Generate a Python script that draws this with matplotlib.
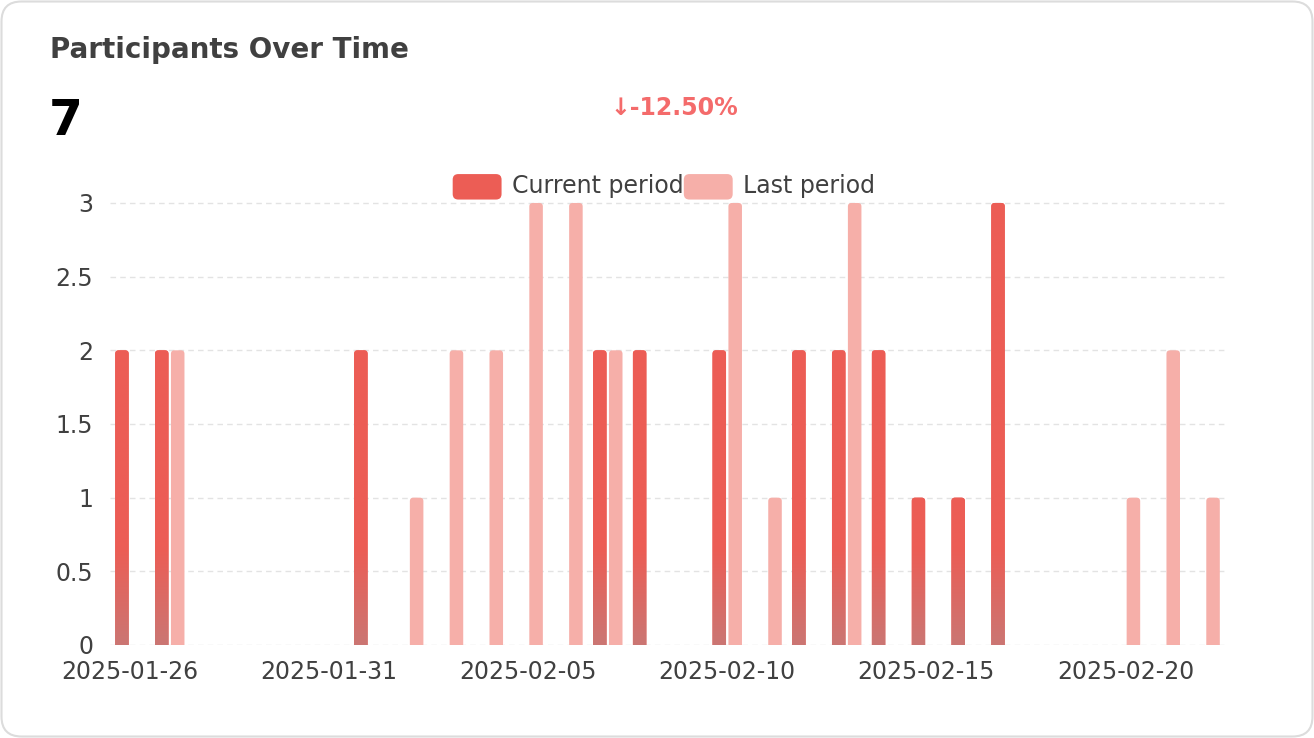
import numpy as np
import pandas as pd
import matplotlib
matplotlib.use('Agg')
import matplotlib.pyplot as plt
import matplotlib.dates as mdates
from matplotlib.patches import FancyBboxPatch
from matplotlib.legend_handler import HandlerPatch
from matplotlib.colors import LinearSegmentedColormap

# data
current_dates = ['2025-01-26', '2025-01-27', '2025-02-01', '2025-02-07', '2025-02-08',
                 '2025-02-10', '2025-02-12', '2025-02-13', '2025-02-14', '2025-02-15',
                 '2025-02-16', '2025-02-17']
current_vals = [2, 2, 2, 2, 2, 2, 2, 2, 2, 1, 1, 3]
last_dates = ['2025-01-27', '2025-02-02', '2025-02-03', '2025-02-04', '2025-02-05',
              '2025-02-06', '2025-02-07', '2025-02-10', '2025-02-11', '2025-02-13',
              '2025-02-20', '2025-02-21', '2025-02-22']
last_vals = [2, 1, 2, 2, 3, 3, 2, 3, 1, 3, 1, 2, 1]
xtick_dates = ['2025-01-26', '2025-01-31', '2025-02-05', '2025-02-10', '2025-02-15', '2025-02-20']
yticks = [0, 0.5, 1, 1.5, 2, 2.5, 3]
ytick_labels = ['0', '0.5', '1', '1.5', '2', '2.5', '3']

title = 'Participants Over Time'
total = '7'
change = '↓-12.50%'

col_cur = '#EC5D55'
col_cur_bottom = '#CB7673'
col_last = '#F6AFA9'
text_col = '#404040'

W, H = 1314, 738
fig = plt.figure(figsize=(W / 100, H / 100), dpi=100)

# card border
card = FancyBboxPatch((1.5 / W, 1.5 / H), (W - 3) / W, (H - 3) / H,
                      boxstyle='round,pad=0,rounding_size=%f' % (20 / W),
                      mutation_aspect=W / H, transform=fig.transFigure,
                      facecolor='white', edgecolor='#DCDCDC', linewidth=1.5,
                      zorder=-5)
fig.patches.append(card)

ytop = 3.05
ax = fig.add_axes([110 / W, 93 / H, 1115 / W, 449.4 / H])
ax.set_facecolor('none')

xc = mdates.date2num(pd.to_datetime(current_dates))
xl = mdates.date2num(pd.to_datetime(last_dates))
bw = 0.34
off = 0.2

bars_c = ax.bar(xc - off, current_vals, width=bw, color=col_cur, alpha=0)
bars_l = ax.bar(xl + off, last_vals, width=bw, color=col_last, alpha=0)

# px per unit -> aspect for rounded corners
px_x = 1115 / 28.0
px_y = 449.4 / ytop
asp = px_x / px_y
rs = 3.5 / px_x

cmap = LinearSegmentedColormap.from_list('g', [col_cur_bottom, col_cur])
grad_y = np.linspace(0, ytop, 200)
grad = np.clip(grad_y / 0.65, 0, 1).reshape(-1, 1)


def rounded(rect, fc):
    x0, w, h = rect.get_x(), rect.get_width(), rect.get_height()
    p = FancyBboxPatch((x0, -0.05), w, h + 0.05,
                       boxstyle='round,pad=0,rounding_size=%f' % rs,
                       mutation_aspect=1 / asp, facecolor=fc, edgecolor='none',
                       zorder=2)
    p.set_mutation_aspect(asp)
    ax.add_patch(p)
    return p


for r in bars_c:
    p = rounded(r, col_cur)
    im = ax.imshow(grad, extent=(r.get_x(), r.get_x() + r.get_width(), 0, ytop),
                   origin='lower', cmap=cmap, aspect='auto', zorder=3,
                   interpolation='bilinear')
    im.set_clip_path(p)
for r in bars_l:
    rounded(r, col_last)

ax.set_xlim(mdates.date2num(pd.Timestamp('2025-01-26')) - 0.5,
            mdates.date2num(pd.Timestamp('2025-02-22')) + 0.5)
ax.set_ylim(0, ytop)
ax.set_yticks(yticks)
ax.set_yticklabels(ytick_labels)
ax.set_xticks(mdates.date2num(pd.to_datetime(xtick_dates)))
ax.set_xticklabels(xtick_dates)
ax.tick_params(axis='both', length=0, labelsize=17, labelcolor=text_col)
ax.tick_params(axis='y', pad=12)
ax.tick_params(axis='x', pad=11)
for s in ax.spines.values():
    s.set_visible(False)
ax.yaxis.grid(True, color='#E3E3E3', linestyle=(0, (4, 3)), linewidth=1)
ax.set_axisbelow(True)


def legend_patch(legend, orig_handle, xdescent, ydescent, width, height, fontsize):
    return FancyBboxPatch((-xdescent, -ydescent - 0.25 * height), width, height * 1.3,
                          boxstyle='round,pad=0,rounding_size=4')


h1 = plt.Rectangle((0, 0), 1, 1, facecolor=col_cur)
h2 = plt.Rectangle((0, 0), 1, 1, facecolor=col_last)
fig.legend([h1, h2], ['Current period', 'Last period'], loc='center',
           bbox_to_anchor=(664 / W, 1 - 186 / H), ncol=2, frameon=False,
           fontsize=17, labelcolor=text_col, handlelength=2.07, handleheight=0.9,
           handletextpad=0.45, columnspacing=0.0,
           handler_map={plt.Rectangle: HandlerPatch(patch_func=legend_patch)})

fig.text(50 / W, 1 - 50 / H, title, fontsize=20, fontweight='bold',
         color=text_col, va='center', ha='left')
fig.text(49 / W, 1 - 121 / H, total, fontsize=35, fontweight='bold',
         color='black', va='center', ha='left')
fig.text(674 / W, 1 - 108 / H, change, fontsize=17, fontweight='bold',
         color='#F46B6B', va='center', ha='center')

fig.savefig('out.png', dpi=100)
